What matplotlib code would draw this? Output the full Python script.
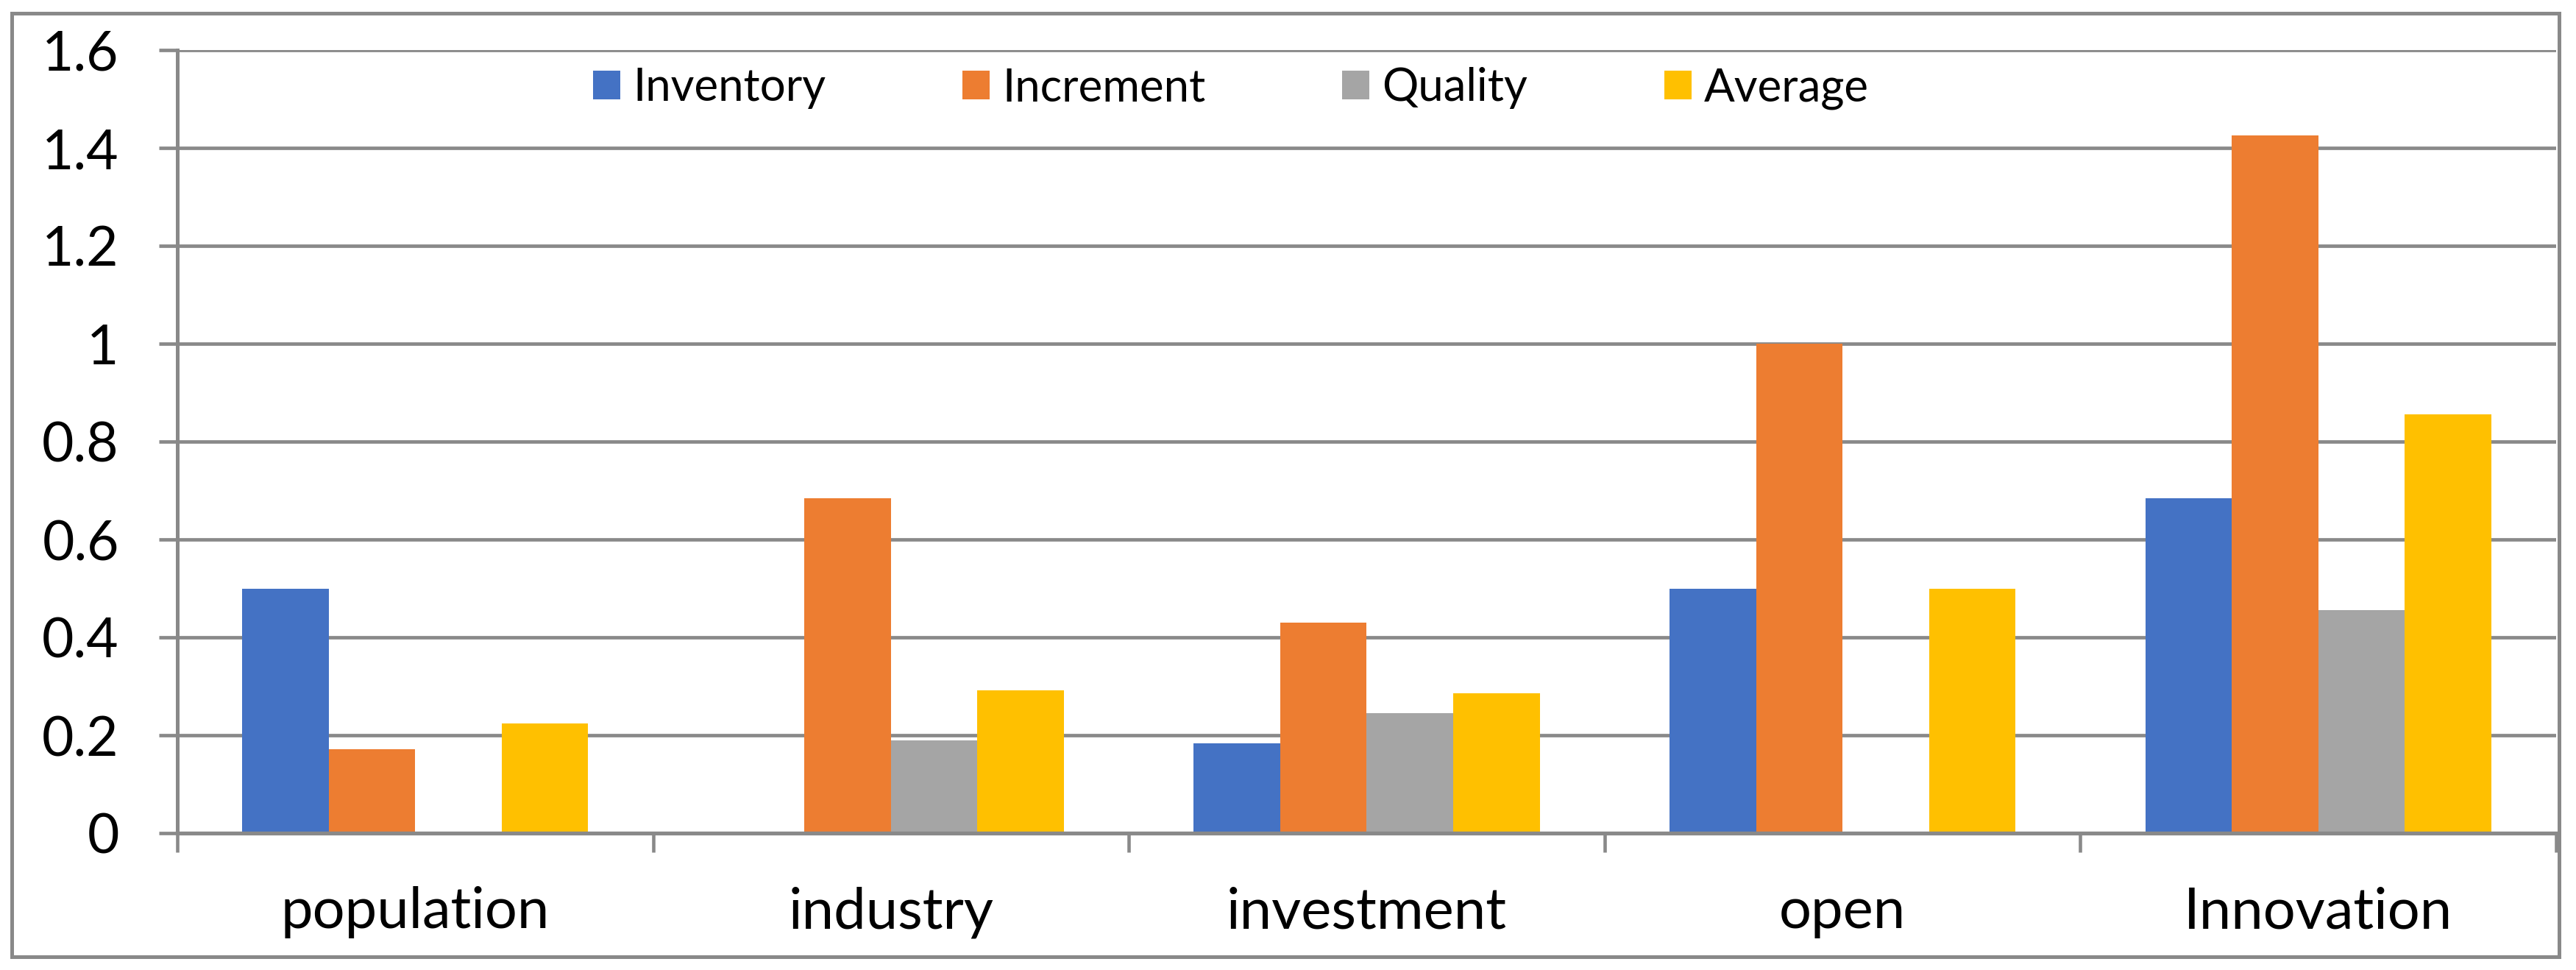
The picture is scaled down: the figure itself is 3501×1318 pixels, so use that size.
import numpy as np
import matplotlib.pyplot as plt
from matplotlib.patches import Rectangle

# chart data
categories = ['population', 'industry', 'investment', 'open', 'Innovation']
series_names = ['Inventory', 'Increment', 'Quality', 'Average']
inventory = [0.50, 0.0, 0.183, 0.50, 0.684]
increment = [0.172, 0.684, 0.430, 1.0, 1.425]
quality = [0.0, 0.190, 0.245, 0.0, 0.455]
average = [0.224, 0.291, 0.285, 0.50, 0.855]
yticks = [0, 0.2, 0.4, 0.6, 0.8, 1, 1.2, 1.4, 1.6]
ytick_labels = ['0', '0.2', '0.4', '0.6', '0.8', '1', '1.2', '1.4', '1.6']

colors = ['#4472C4', '#ED7D31', '#A5A5A5', '#FFC000']
grid_gray = '#898989'

plt.rcParams['font.family'] = ['Lato', 'DejaVu Sans']

fig = plt.figure(figsize=(35.01, 13.18), dpi=100)
ax = fig.add_axes([241 / 3501, 186 / 1318, (3474 - 241) / 3501, (1132 - 68) / 1318])

x = np.arange(len(categories))
w = 1 / 5.5  # excel gap width 150%
all_series = [inventory, increment, quality, average]
for k, vals in enumerate(all_series):
    ax.bar(x + (k - 1.5) * w, vals, width=w, color=colors[k], label=series_names[k], zorder=3)

ax.set_xlim(-0.5, len(categories) - 0.5)
ax.set_ylim(0, 1.6)
ax.set_yticks(yticks)
ax.set_yticklabels(ytick_labels)

# category labels centred, tick marks on the boundaries
ax.set_xticks(x)
ax.set_xticklabels(categories)
ax.set_xticks(np.arange(-0.5, len(categories), 1), minor=True)
ax.tick_params(axis='x', which='major', length=0, pad=52, labelsize=56)
ax.tick_params(axis='x', which='minor', length=19, width=3.3, color=grid_gray)
ax.tick_params(axis='y', length=18, width=3.4, color=grid_gray, pad=39, labelsize=54)

ax.yaxis.grid(True, color=grid_gray, linewidth=3.4, zorder=0)
ax.set_axisbelow(True)
for s in ['top', 'right']:
    ax.spines[s].set_visible(False)
ax.spines['left'].set_color(grid_gray)
ax.spines['left'].set_linewidth(3.6)
ax.spines['bottom'].set_color(grid_gray)
ax.spines['bottom'].set_linewidth(3.8)
ax.spines['bottom'].set_zorder(4)

ax.legend(loc='center', bbox_to_anchor=(0.443, 0.951), ncol=4, frameon=False,
          fontsize=44.5, handlelength=0.6, handleheight=0.6, handletextpad=0.28,
          columnspacing=3.0, borderpad=0)

# outer chart border
fig.patches.append(Rectangle((16 / 3501, 18 / 1318), (3478 - 16) / 3501, (1300 - 18) / 1318,
                             transform=fig.transFigure, fill=False,
                             edgecolor=grid_gray, linewidth=3.6))

fig.savefig('out.png', dpi=100)
